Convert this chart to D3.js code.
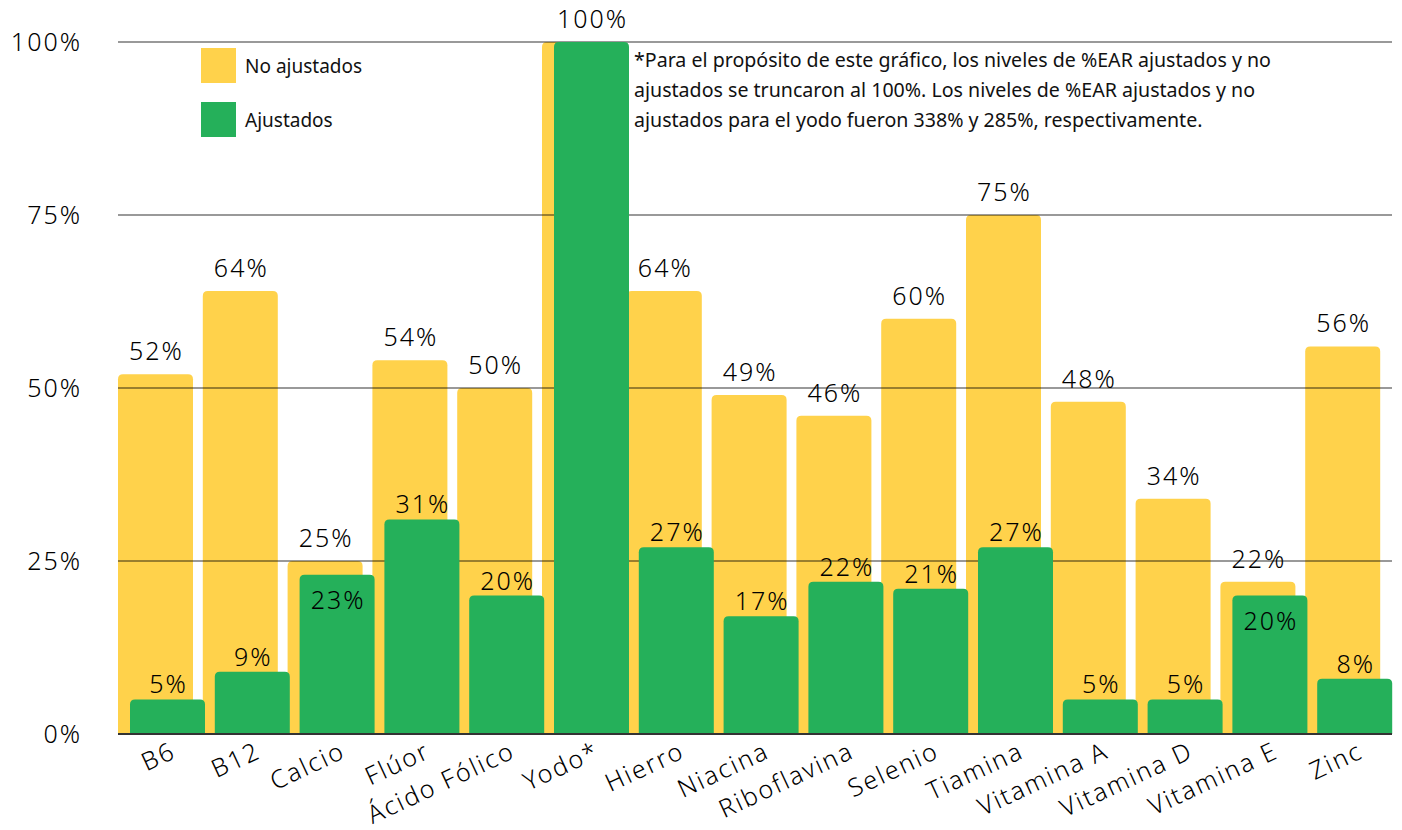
<!DOCTYPE html>
<html>
<head>
<meta charset="utf-8">
<script src="https://cdn.jsdelivr.net/npm/d3@7"></script>
<style>
  body { margin: 0; background: #fff; }
  svg { display: block; }
</style>
</head>
<body>
<div id="chart"></div>
<script>
// categories and values (percent of EAR)
const categories = ['B6', 'B12', 'Calcio', 'Flúor', 'Ácido Fólico', 'Yodo*', 'Hierro', 'Niacina',
  'Riboflavina', 'Selenio', 'Tiamina', 'Vitamina A', 'Vitamina D', 'Vitamina E', 'Zinc'];
const noAjustados = [52, 64, 25, 54, 50, 100, 64, 49, 46, 60, 75, 48, 34, 22, 56];
const ajustados = [5, 9, 23, 31, 20, 100, 27, 17, 22, 21, 27, 5, 5, 20, 8];
const yTicks = [0, 25, 50, 75, 100];
const legendLabels = ['No ajustados', 'Ajustados'];
const noteLines = [
  '*Para el propósito de este gráfico, los niveles de %EAR ajustados y no',
  'ajustados se truncaron al 100%. Los niveles de %EAR ajustados y no',
  'ajustados para el yodo fueron 338% y 285%, respectivamente.'
];

const width = 1402, height = 830;
const yellow = '#FFD24B', green = '#25B05A';
const numFont = "'Noto Sans', sans-serif";
const textFont = "'Noto Sans', sans-serif";

let svg = d3.select('#chart').append('svg')
  .attr('width', width)
  .attr('height', height);

let x = d3.scaleBand().domain(categories).range([118, 1390]).paddingInner(0).paddingOuter(0);
let y = d3.scaleLinear().domain([0, 100]).range([734, 42]);

let barW = 75, shift = 12, r = 5;

// bar with rounded top corners
function topRounded(x0, y0, w, h) {
  let rr = Math.min(r, h);
  return 'M' + x0 + ',' + (y0 + h) +
    'V' + (y0 + rr) +
    'Q' + x0 + ',' + y0 + ' ' + (x0 + rr) + ',' + y0 +
    'H' + (x0 + w - rr) +
    'Q' + (x0 + w) + ',' + y0 + ' ' + (x0 + w) + ',' + (y0 + rr) +
    'V' + (y0 + h) + 'Z';
}

function numText(sel, size) {
  return sel.style('font-family', numFont)
    .style('font-size', size + 'px')
    .style('font-weight', 300)
    .style('letter-spacing', '2px')
    .attr('fill', '#000');
}

// yellow bars (behind the grid)
svg.append('g')
  .selectAll('path')
  .data(categories)
  .enter()
  .append('path')
  .attr('d', (d, i) => topRounded(x(d), y(noAjustados[i]), barW, y(0) - y(noAjustados[i])))
  .attr('fill', yellow);

// grid lines
svg.append('g')
  .selectAll('line')
  .data(yTicks.filter(t => t > 0))
  .enter()
  .append('line')
  .attr('x1', 118)
  .attr('x2', 1392)
  .attr('y1', d => y(d))
  .attr('y2', d => y(d))
  .attr('stroke', 'rgba(0,0,0,0.4)')
  .attr('stroke-width', 2);

// green bars
svg.append('g')
  .selectAll('path')
  .data(categories)
  .enter()
  .append('path')
  .attr('d', (d, i) => topRounded(x(d) + shift, y(ajustados[i]), barW, y(0) - y(ajustados[i])))
  .attr('fill', green);

// baseline
svg.append('line')
  .attr('x1', 118)
  .attr('x2', 1392)
  .attr('y1', y(0))
  .attr('y2', y(0))
  .attr('stroke', '#333')
  .attr('stroke-width', 2);

// y axis labels
svg.append('g')
  .selectAll('text')
  .data(yTicks)
  .enter()
  .append('text')
  .attr('x', 82)
  .attr('y', d => y(d))
  .attr('dy', '0.36em')
  .attr('text-anchor', 'end')
  .call(numText, 25)
  .text(d => d + '%');

// value labels: yellow bars (skipped when equal to green)
svg.append('g')
  .selectAll('text')
  .data(categories.filter((d, i) => noAjustados[i] !== ajustados[i]))
  .enter()
  .append('text')
  .attr('x', d => x(d) + barW / 2 + 1)
  .attr('y', d => y(noAjustados[categories.indexOf(d)]) - 14)
  .attr('text-anchor', 'middle')
  .call(numText, 25)
  .text(d => noAjustados[categories.indexOf(d)] + '%');

// value labels: green bars (inside the bar when too close to the yellow label)
svg.append('g')
  .selectAll('text')
  .data(categories)
  .enter()
  .append('text')
  .attr('x', d => x(d) + shift + barW / 2 + 1)
  .attr('y', function(d, i) {
    let gap = noAjustados[i] - ajustados[i];
    if (gap === 0) return y(ajustados[i]) - 14;
    if (gap < 5) return y(ajustados[i]) + 34;
    return y(ajustados[i]) - 6;
  })
  .attr('text-anchor', 'middle')
  .call(numText, 25)
  .text((d, i) => ajustados[i] + '%');

// x axis labels
svg.append('g')
  .selectAll('text')
  .data(categories)
  .enter()
  .append('text')
  .attr('transform', d => 'translate(' + (x(d) + x.bandwidth() / 2 + 17) + ',757) rotate(-25)')
  .attr('text-anchor', 'end')
  .call(numText, 25)
  .text(d => d);

// legend
let legend = svg.append('g')
  .selectAll('g')
  .data(legendLabels)
  .enter()
  .append('g')
  .attr('transform', (d, i) => 'translate(201,' + (48 + i * 54) + ')');

legend.append('rect')
  .attr('width', 35)
  .attr('height', 35)
  .attr('fill', (d, i) => i === 0 ? yellow : green);

legend.append('text')
  .attr('x', 44)
  .attr('y', 18)
  .attr('dy', '0.35em')
  .style('font-family', textFont)
  .style('font-size', '19px')
  .attr('fill', '#111')
  .text(d => d);

// footnote
svg.append('g')
  .selectAll('text')
  .data(noteLines)
  .enter()
  .append('text')
  .attr('x', 634)
  .attr('y', (d, i) => 60 + i * 30)
  .attr('dy', '0.35em')
  .style('font-family', textFont)
  .style('font-size', '19.6px')
  .attr('fill', '#111')
  .text(d => d);
</script>
</body>
</html>
